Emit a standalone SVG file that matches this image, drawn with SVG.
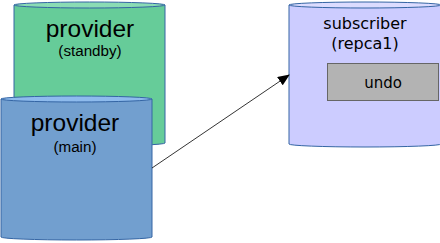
<svg xmlns="http://www.w3.org/2000/svg" width="440" height="243" viewBox="0 0 440 243">
<defs>
<style>
.lib{font-family:"Liberation Sans",Arial,sans-serif;fill:#000;text-anchor:middle}
.dj{font-family:"DejaVu Sans",sans-serif;fill:#000;text-anchor:middle}
.edge{stroke:#3465a4;stroke-width:1}
</style>
<marker id="ah" markerWidth="12" markerHeight="10" refX="11" refY="5" orient="auto" markerUnits="userSpaceOnUse">
<path d="M0,0 L12,5 L0,10 z" fill="#000"/>
</marker>
</defs>
<g id="standby">
<path d="M14,5 V143 A75.5,3 0 0 0 165,143 V5" fill="#66cc99" class="edge"/>
<ellipse cx="89.5" cy="5" rx="75.5" ry="3" fill="#8adcb4" class="edge"/>
<text class="lib" x="90" y="37" font-size="24.5">provider</text>
<text class="lib" x="90" y="56" font-size="15.2">(standby)</text>
</g>
<g id="main">
<path d="M1,99 V237 A75.5,3 0 0 0 152,237 V99" fill="#729fcf" class="edge"/>
<ellipse cx="76.5" cy="99" rx="75.5" ry="3" fill="#8ebbed" class="edge"/>
<text class="lib" x="75" y="131" font-size="24.5">provider</text>
<text class="lib" x="75" y="152" font-size="15.2">(main)</text>
</g>
<g id="subscriber">
<path d="M289,5 V144 A76,3 0 0 0 441,144 V5" fill="#ccccff" class="edge"/>
<ellipse cx="365" cy="5" rx="76" ry="3" fill="#dcdcff" class="edge"/>
<text class="dj" x="365" y="29" font-size="16">subscriber</text>
<text class="dj" x="365" y="49" font-size="16">(repca1)</text>
</g>
<g id="undo">
<rect x="327.5" y="63.5" width="111" height="37" fill="#b3b3b3" stroke="#666"/>
<text class="dj" x="383" y="88" font-size="15">undo</text>
</g>
<g id="connectors">
<line x1="152" y1="168" x2="289" y2="75" stroke="#000" stroke-width="0.8" marker-end="url(#ah)"/>
</g>
</svg>
